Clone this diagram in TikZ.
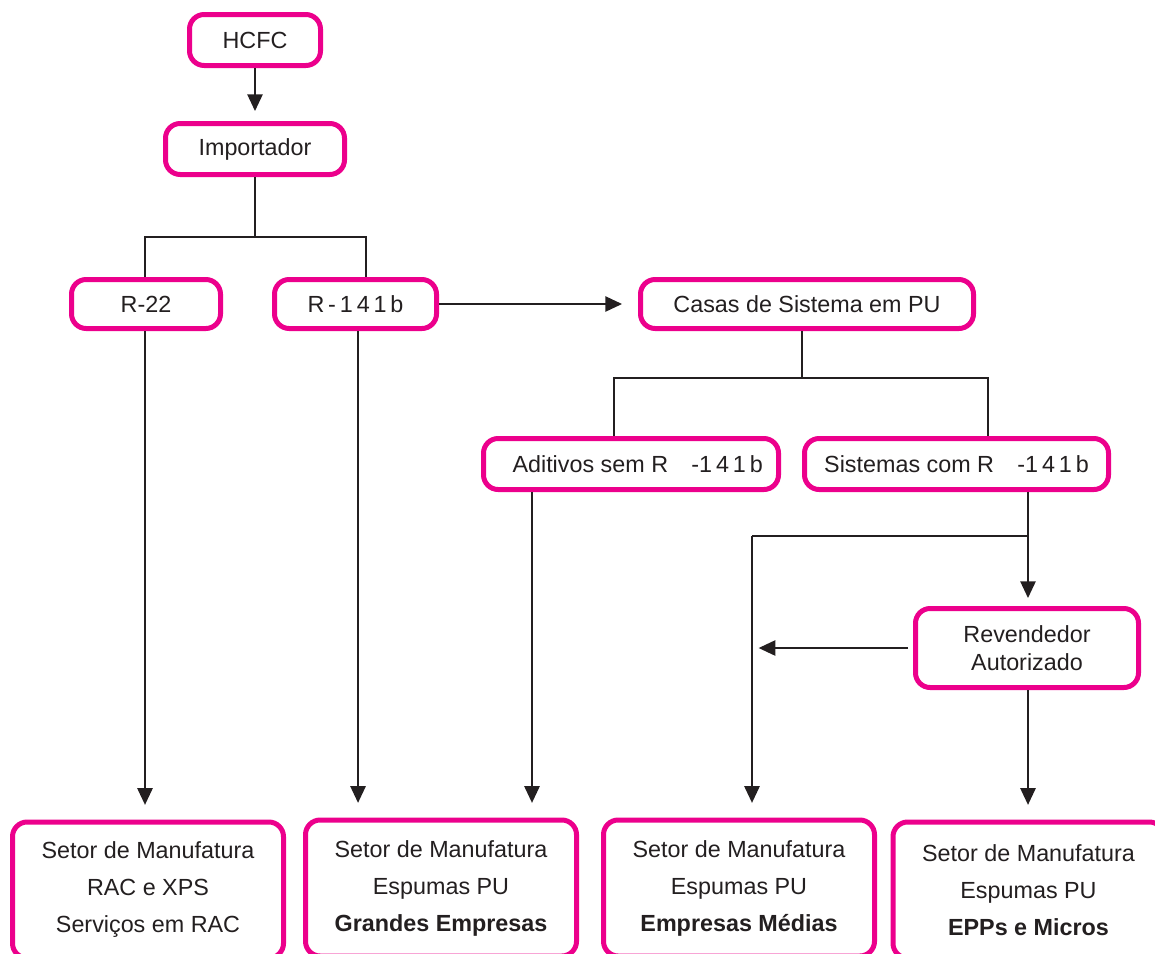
\documentclass[tikz,border=0pt]{standalone}
\usepackage{fontspec}
\setmainfont{Liberation Sans}
\usetikzlibrary{arrows.meta,calc}
\definecolor{mag}{RGB}{236,0,140}
\definecolor{ink}{RGB}{35,31,32}
\begin{document}
\begin{tikzpicture}[x=0.75pt,y=-0.75pt,
  box/.style={draw=mag,line width=3.75pt,rounded corners=11pt,fill=white,
    text=ink,font=\fontsize{17.5}{21}\selectfont,align=center,inner sep=0pt},
  conn/.style={draw=ink,line width=1.1pt},
  arr/.style={conn,-{Triangle[length=12.5pt,width=11.5pt]}},
  gap/.style={shorten >=11pt}]
\useasboundingbox (0,0) rectangle (1155,953);
\clip (0,0) rectangle (1155,953);
\node[box,minimum width=131*0.75pt,minimum height=51*0.75pt] (hcfc) at (255,40) {HCFC};
\node[box,minimum width=179*0.75pt,minimum height=51*0.75pt] (imp) at (255,149) {Importador};
\node[box,minimum width=149*0.75pt,minimum height=49*0.75pt] (r22) at (146,304) {R-22};
\node[box,minimum width=162*0.75pt,minimum height=49*0.75pt] (r141) at (355.5,304) {R\,-\,1\,4\,1\,b};
\node[box,minimum width=333*0.75pt,minimum height=49*0.75pt] (casas) at (807,304) {Casas de Sistema em PU};
\node[box,minimum width=295*0.75pt,minimum height=51*0.75pt] (adit) at (631,464) {\hspace*{10pt}Aditivos sem R\hspace{1em}-1\,4\,1\,b};
\node[box,minimum width=304*0.75pt,minimum height=51*0.75pt] (sist) at (956.5,464) {Sistemas com R\hspace{1em}-1\,4\,1\,b};
\node[box,minimum width=223*0.75pt,minimum height=79*0.75pt] (rev) at (1027,648) {Revendedor\\Autorizado};
\tikzset{bot/.style={box,minimum width=271*0.75pt,minimum height=136*0.75pt,
  font=\fontsize{17.5}{27.75}\selectfont}}
\node[bot] (b1) at (148,890) {Setor de Manufatura\\RAC e XPS\\Serviços em RAC};
\node[bot] (b2) at (441,888) {Setor de Manufatura\\Espumas PU\\\textbf{Grandes Empresas}};
\node[bot] (b3) at (739,888) {Setor de Manufatura\\Espumas PU\\\textbf{Empresas Médias}};
\node[bot] (b4) at (1028.5,890) {Setor de Manufatura\\Espumas PU\\\textbf{EPPs e Micros}};
% connectors
\coordinate (j1) at (255,237);
\coordinate (j2) at (802,378);
\coordinate (j3) at (1028,536);
\coordinate (j4) at (752,536);
\draw[arr,shorten >=7.5pt] (hcfc.south) -- (imp.north);
\draw[conn] (imp.south) -- (j1);
\draw[conn] ([xshift=-0.75pt]r22.north) |- (j1) -| ([xshift=7.9pt]r141.north);
\draw[arr,shorten >=12pt] (r141.east) -- (casas.west);
\draw[arr,gap] ([xshift=-0.75pt]r22.south) -- ([xshift=-0.75pt]r22.south |- b1.north);
\draw[arr,gap] ([xshift=1.9pt]r141.south) -- ([xshift=1.9pt]r141.south |- b2.north);
\draw[conn] (casas.south -| j2) -- (j2);
\draw[conn] ([xshift=-12.75pt]adit.north) |- (j2) -| ([xshift=23.6pt]sist.north);
\draw[arr,gap] (adit.south -| 532,0) -- (b3.north -| 532,0);
\draw[arr,shorten >=6pt] (sist.south -| j3) -- (rev.north -| j3);
\draw[conn] (j3) -- (j4);
\draw[arr,gap] (j4) -- (b3.north -| j4);
\draw[arr,shorten <=3.75pt,shorten >=5pt] (rev.west) -- (rev.west -| j4);
\draw[arr,gap] (rev.south -| j3) -- (b4.north -| j3);
\end{tikzpicture}
\end{document}
